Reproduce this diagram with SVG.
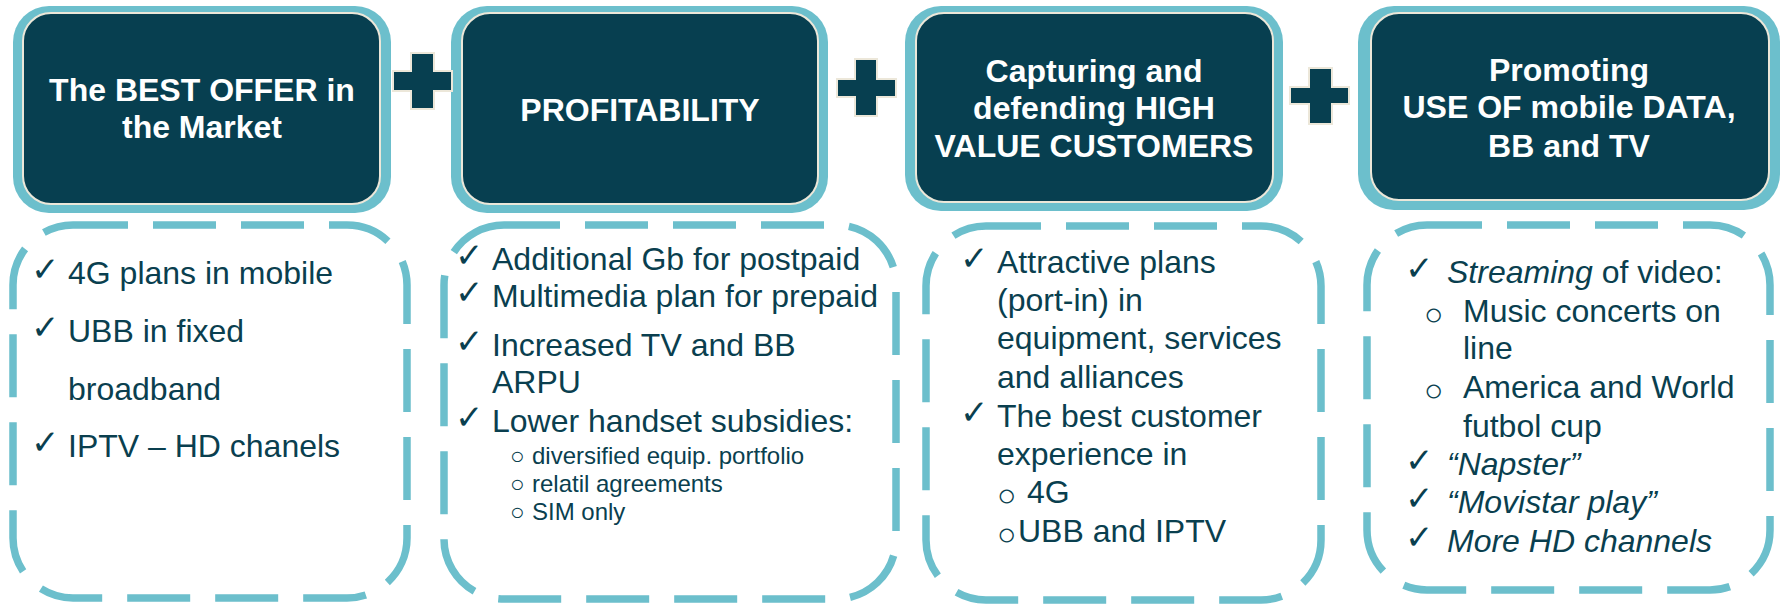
<svg xmlns="http://www.w3.org/2000/svg" width="1786" height="604" viewBox="0 0 1786 604">
  <style>
    .frame { fill: #6CBFCC; }
    .head { fill: #073F50; stroke: #ECE7D9; stroke-width: 2; }
    .plus { fill: #073F50; stroke: #ECE7D9; stroke-width: 2; }
    .dash { fill: none; stroke: #6CBFCC; stroke-width: 7.5; stroke-dasharray: 63 25; }
    .title { font-family: "Liberation Sans", Arial, sans-serif; font-weight: bold; font-size: 32px; fill: #FFFFFF; text-anchor: middle; }
    .body { font-family: "Liberation Sans", Arial, sans-serif; font-size: 32px; fill: #0A3F4F; }
    .small { font-family: "Liberation Sans", Arial, sans-serif; font-size: 24px; fill: #0A3F4F; }
    .chk { font-family: "DejaVu Sans", sans-serif; font-weight: bold; font-size: 34px; fill: #0A3F4F; }
    .ring { font-family: "Liberation Sans", Arial, sans-serif; fill: #0A3F4F; }
    .it { font-style: italic; }
  </style>

  <!-- heading boxes -->
  <g id="head-offer">
    <rect class="frame" x="13" y="6" width="378" height="207" rx="36"/>
    <rect class="head" x="23" y="13" width="357" height="191" rx="28"/>
    <text class="title" x="202" y="101">The BEST OFFER in</text>
    <text class="title" x="202" y="138">the Market</text>
  </g>
  <g id="head-profit">
    <rect class="frame" x="451" y="6" width="377" height="207" rx="36"/>
    <rect class="head" x="462" y="13" width="356" height="191" rx="28"/>
    <text class="title" x="640" y="121">PROFITABILITY</text>
  </g>
  <g id="head-customers">
    <rect class="frame" x="905" y="6" width="378" height="205" rx="36"/>
    <rect class="head" x="916" y="13" width="357" height="189" rx="28"/>
    <text class="title" x="1094" y="82">Capturing and</text>
    <text class="title" x="1094" y="119">defending HIGH</text>
    <text class="title" x="1094" y="157">VALUE CUSTOMERS</text>
  </g>
  <g id="head-data">
    <rect class="frame" x="1358" y="6" width="422" height="204" rx="36"/>
    <rect class="head" x="1371" y="13" width="398" height="187" rx="28"/>
    <text class="title" x="1569" y="81">Promoting</text>
    <text class="title" x="1569" y="118">USE OF mobile DATA,</text>
    <text class="title" x="1569" y="157">BB and TV</text>
  </g>

  <!-- plus signs between the headings -->
  <g id="connectors">
    <path class="plus" d="M411 53 H434 V71 H452 V91 H434 V109 H411 V91 H393 V71 H411 Z"/>
    <path class="plus" d="M855 59 H877 V79 H896 V97 H877 V116 H855 V97 H837 V79 H855 Z"/>
    <path class="plus" d="M1309 68 H1332 V87 H1349 V104 H1332 V124 H1309 V104 H1290 V87 H1309 Z"/>
  </g>

  <!-- detail boxes -->
  <g id="detail-offer">
    <rect class="dash" x="13" y="225" width="394" height="373" rx="60" stroke-dashoffset="8"/>
    <text class="chk" x="31" y="281">✓</text>
    <text class="body" x="68" y="284">4G plans in mobile</text>
    <text class="chk" x="31" y="339">✓</text>
    <text class="body" x="68" y="342">UBB in fixed</text>
    <text class="body" x="68" y="400">broadband</text>
    <text class="chk" x="31" y="454">✓</text>
    <text class="body" x="68" y="457">IPTV – HD chanels</text>
  </g>

  <g id="detail-profit">
    <rect class="dash" x="444" y="225" width="452" height="374" rx="60" stroke-dashoffset="7"/>
    <text class="chk" x="455" y="267">✓</text>
    <text class="body" x="492" y="270">Additional Gb for postpaid</text>
    <text class="chk" x="455" y="304">✓</text>
    <text class="body" x="492" y="307">Multimedia plan for prepaid</text>
    <text class="chk" x="455" y="353">✓</text>
    <text class="body" x="492" y="356">Increased TV and BB</text>
    <text class="body" x="492" y="393">ARPU</text>
    <text class="chk" x="455" y="429">✓</text>
    <text class="body" x="492" y="432">Lower handset subsidies:</text>
    <text class="ring" font-size="24" x="510" y="464">○</text>
    <text class="small" x="532" y="464">diversified equip. portfolio</text>
    <text class="ring" font-size="24" x="510" y="492">○</text>
    <text class="small" x="532" y="492">relatil agreements</text>
    <text class="ring" font-size="24" x="510" y="520">○</text>
    <text class="small" x="532" y="520">SIM only</text>
  </g>

  <g id="detail-customers">
    <rect class="dash" x="926" y="226" width="395" height="374" rx="60" stroke-dashoffset="8"/>
    <text class="chk" x="960" y="270">✓</text>
    <text class="body" x="997" y="273">Attractive plans</text>
    <text class="body" x="997" y="311">(port-in) in</text>
    <text class="body" x="997" y="349">equipment, services</text>
    <text class="body" x="997" y="388">and alliances</text>
    <text class="chk" x="960" y="424">✓</text>
    <text class="body" x="997" y="427">The best customer</text>
    <text class="body" x="997" y="465">experience in</text>
    <text class="ring" font-size="32" x="997" y="506">○</text>
    <text class="body" x="1027" y="503">4G</text>
    <text class="ring" font-size="32" x="997" y="545">○</text>
    <text class="body" x="1018" y="542">UBB and IPTV</text>
  </g>

  <g id="detail-data">
    <rect class="dash" x="1367" y="225" width="403" height="365" rx="60" stroke-dashoffset="8"/>
    <text class="chk" x="1405" y="280">✓</text>
    <text class="body" x="1447" y="283"><tspan class="it">Streaming</tspan> of video:</text>
    <text class="ring" font-size="32" x="1424" y="325">○</text>
    <text class="body" x="1463" y="322">Music concerts on</text>
    <text class="body" x="1463" y="359">line</text>
    <text class="ring" font-size="32" x="1424" y="401">○</text>
    <text class="body" x="1463" y="398">America and World</text>
    <text class="body" x="1463" y="437">futbol cup</text>
    <text class="chk" x="1405" y="472">✓</text>
    <text class="body it" x="1447" y="475">“Napster”</text>
    <text class="chk" x="1405" y="510">✓</text>
    <text class="body it" x="1447" y="513">“Movistar play”</text>
    <text class="chk" x="1405" y="549">✓</text>
    <text class="body it" x="1447" y="552">More HD channels</text>
  </g>
</svg>
